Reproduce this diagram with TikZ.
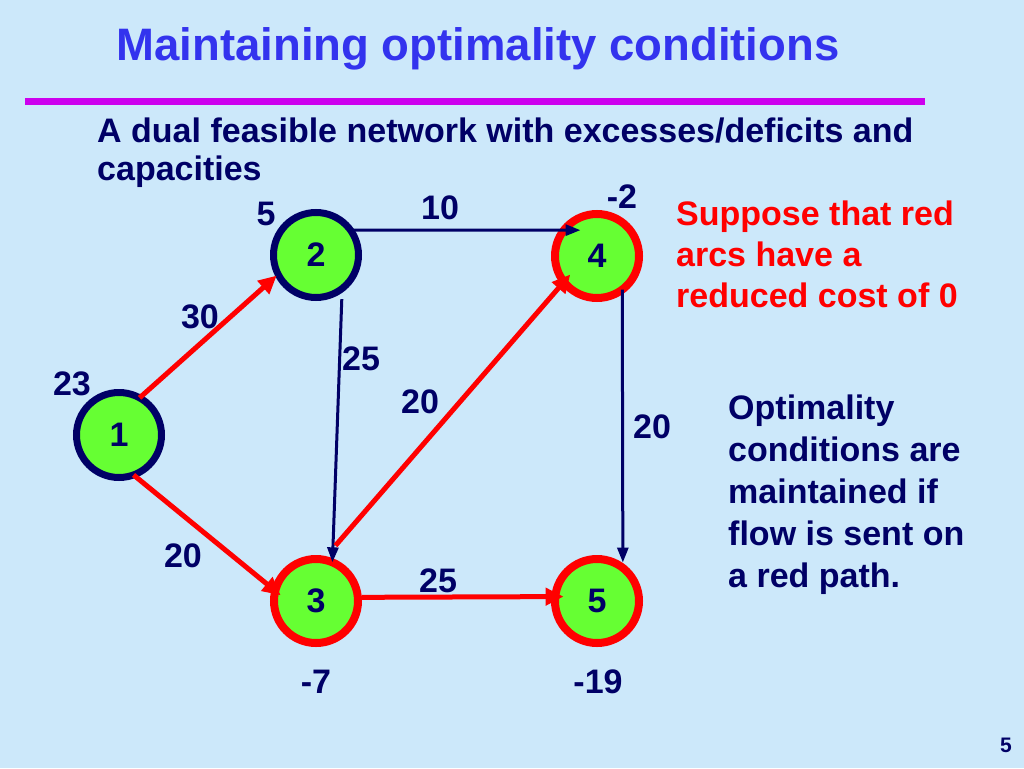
\documentclass[tikz,border=0pt]{standalone}
\usepackage{fontspec}
\setmainfont{Liberation Sans}
\usetikzlibrary{arrows.meta}
\definecolor{bg}{HTML}{CCE8FA}
\definecolor{navy}{HTML}{000066}
\definecolor{ttl}{HTML}{3333EE}
\definecolor{mag}{HTML}{CC00EE}
\definecolor{nodegreen}{HTML}{66FF33}
\definecolor{arcred}{HTML}{FF0000}
\begin{document}
\begin{tikzpicture}[x=1pt,y=-1pt,
 every node/.style={font=\fontsize{34}{34}\selectfont\bfseries, text=navy},
 vtx/.style={circle, fill=nodegreen, minimum size=85pt, inner sep=0pt, outer sep=0pt},
 plain/.style={vtx, draw=navy, line width=7pt},
 hot/.style={vtx, draw=arcred, line width=8pt, minimum size=84pt},
 redarc/.style={draw=arcred, line width=5pt, -{Triangle[length=18pt,width=17pt]}},
 bluearc/.style={draw=navy, line width=3pt, -{Triangle[length=15pt,width=11pt]}},
 lbl/.style={anchor=base, inner sep=0pt},
 txt/.style={anchor=base west, inner sep=0pt},
]
\useasboundingbox (0,0) rectangle (1024,768);
\fill[bg] (0,0) rectangle (1024,768);

% title and rule
\node[lbl, font=\fontsize{45.5}{45.5}\selectfont\bfseries, text=ttl] (title) at (478,60) {Maintaining optimality conditions};
\draw[mag, line width=7pt] (25,101.5) -- (925,101.5);

% heading text
\node[txt] (h1) at (97,142) {A dual feasible network with excesses/deficits and};
\node[txt] (h2) at (97,180) {capacities};

% red note
\node[txt, text=arcred] (r1) at (676,225) {Suppose that red};
\node[txt, text=arcred] (r2) at (676,266) {arcs have a};
\node[txt, text=arcred] (r3) at (676,307) {reduced cost of 0};

% navy note
\node[txt] (b1) at (728,419) {Optimality};
\node[txt] (b2) at (728,461) {conditions are};
\node[txt] (b3) at (728,503) {maintained if};
\node[txt] (b4) at (728,545) {flow is sent on};
\node[txt] (b5) at (728,587) {a red path.};

% nodes
\node[plain] (n1) at (119,435) {1};
\node[plain] (n2) at (316,255) {2};
\node[hot]   (n3) at (316,601) {3};
\node[hot]   (n4) at (597,256) {4};
\node[hot]   (n5) at (597,601) {5};

% arcs
\draw[redarc, shorten >=2pt] (n1.61) -- (n2.207);
\draw[redarc, shorten >=-7pt] (n1.290) -- (n3.166);
\draw[bluearc, shorten <=10.7pt] (n2.308.4) -- (n3.67.7);
\draw[redarc, shorten <=18.6pt, shorten >=-9.7pt] (n3.80.8) -- (n4.218.2);
\draw[bluearc, shorten <=2.6pt, shorten >=-16.6pt] (n2.36) -- (n4.142.3);
\draw[bluearc, shorten >=5.4pt] (n4.307.7) -- (n5.52.3);
\draw[redarc, shorten <=3.7pt, shorten >=-8.3pt] (n3.5.4) -- (n5.174.6);

% supplies / demands
\node[lbl] (s1) at (72,395) {23};
\node[lbl] (s2) at (266,225) {5};
\node[lbl] (s4) at (622,208) {-2};
\node[lbl] (s3) at (316,693) {-7};
\node[lbl] (s5) at (598,693) {-19};

% capacities
\node[lbl] (c24) at (440,219) {10};
\node[lbl] (c12) at (200,328) {30};
\node[lbl] (c23) at (361,370) {25};
\node[lbl] (c34) at (420,413) {20};
\node[lbl] (c45) at (652,438) {20};
\node[lbl] (c13) at (183,567) {20};
\node[lbl] (c35) at (438,592) {25};

% page number
\node[lbl, font=\fontsize{21}{21}\selectfont\bfseries] (pg) at (1006,752) {5};
\end{tikzpicture}
\end{document}
